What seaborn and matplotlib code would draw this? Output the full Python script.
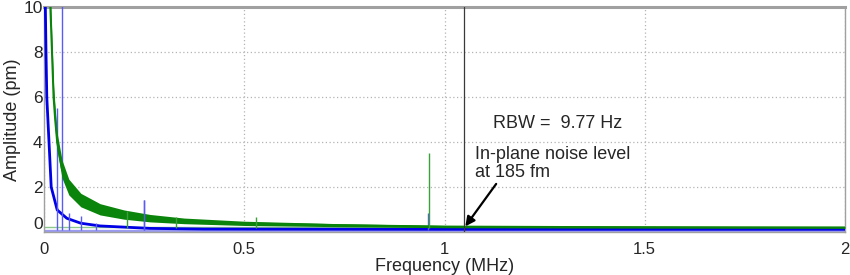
import numpy as np
import pandas as pd
import matplotlib
matplotlib.use("Agg")
import matplotlib.pyplot as plt
import seaborn as sns
from matplotlib.ticker import MultipleLocator

# ---- data (frequency in MHz, amplitude in pm) ----
green_freq = [0.015, 0.020, 0.024, 0.028, 0.033, 0.045, 0.062, 0.092, 0.14,
              0.20, 0.265, 0.35, 0.50, 0.74, 1.00, 1.30, 1.60, 2.00]
green_amp = [10.5, 8.0, 6.0, 5.0, 4.0, 2.8, 2.0, 1.42, 1.0,
             0.76, 0.60, 0.48, 0.38, 0.30, 0.24, 0.22, 0.21, 0.20]
green_lo = [10.0, 7.5, 5.5, 4.5, 3.6, 2.4, 1.65, 1.12, 0.76,
            0.57, 0.45, 0.37, 0.29, 0.235, 0.19, 0.18, 0.175, 0.17]
green_hi = [11.0, 8.5, 6.5, 5.5, 4.4, 3.2, 2.35, 1.72, 1.26,
            0.98, 0.78, 0.62, 0.48, 0.37, 0.29, 0.26, 0.25, 0.235]

blue_freq = [0.003, 0.005, 0.007, 0.0125, 0.018, 0.033, 0.057, 0.092, 0.14,
             0.265, 0.40, 1.00, 2.00]
blue_amp = [10.5, 8.0, 6.0, 4.0, 2.0, 0.98, 0.61, 0.39, 0.27,
            0.16, 0.13, 0.12, 0.12]

blue_spike_freq = [0.033, 0.046, 0.062, 0.093, 0.129, 0.25, 0.96]
blue_spike_amp = [5.5, 10.5, 0.83, 0.71, 0.41, 1.42, 0.85]

green_spike_freq = [0.207, 0.33, 0.53, 0.962]
green_spike_amp = [0.95, 0.68, 0.67, 3.5]

marker_freq = 1.049          # vertical cursor line
baseline_amp = 0.06          # light blue trace along the bottom
green_floor_amp = 0.23       # light green reference trace

x_ticks = [0, 0.5, 1, 1.5, 2]
x_tick_labels = ["0", "0.5", "1", "1.5", "2"]
y_ticks = [0, 2, 4, 6, 8, 10]
y_tick_labels = ["0", "2", "4", "6", "8", "10"]

rbw_text = "RBW =  9.77 Hz"
note_line1 = "In-plane noise level"
note_line2 = "at 185 fm"
arrow_tail = (1.129, 2.14)
arrow_head = (1.052, 0.25)

# ---- styling ----
sns.set_style("white")
plt.rcParams["font.family"] = ["Liberation Sans", "DejaVu Sans"]

GREEN = "#0a840a"
BLUE = "#0000e6"
GRAY = "#a0a0a0"

fig = plt.figure(figsize=(8.5, 2.75), dpi=100)
ax = fig.add_axes([44 / 850, 1 - 232 / 275, (845 - 44) / 850, (232 - 7.3) / 275])

green_df = pd.DataFrame({"freq": green_freq, "amp": green_amp})
blue_df = pd.DataFrame({"freq": blue_freq, "amp": blue_amp})

# reference traces along the bottom
ax.axhline(baseline_amp, color="#9a9af0", lw=2.4, zorder=1)
ax.axhline(green_floor_amp, color="#8cc88c", lw=1.0, zorder=1)

# blue spectrum
sns.lineplot(data=blue_df, x="freq", y="amp", ax=ax, color=BLUE, lw=2.0,
             zorder=3, estimator=None, sort=True)
ax.vlines(blue_spike_freq, 0.1, blue_spike_amp, color="#5a5af5", lw=1.0, zorder=3)

# green spectrum (noisy band)
ax.fill_between(green_freq, green_lo, green_hi, color=GREEN, lw=0, zorder=4)
sns.lineplot(data=green_df, x="freq", y="amp", ax=ax, color=GREEN, lw=1.5,
             zorder=4, estimator=None, sort=True)
ax.vlines(green_spike_freq, 0.18, green_spike_amp, color="#3aa03a", lw=1.0, zorder=4)
ax.vlines([blue_spike_freq[5]], 0.1, blue_spike_amp[5], color="#5a5af5", lw=1.0, zorder=5)

# cursor line
ax.axvline(marker_freq, color="#3a3a3a", lw=0.9, zorder=5)

# annotations
ax.text(1.121, 4.85, rbw_text, fontsize=13, ha="left", va="center", zorder=6)
ax.text(1.076, 3.43, note_line1, fontsize=13, ha="left", va="center", zorder=6)
ax.text(1.076, 2.63, note_line2, fontsize=13, ha="left", va="center", zorder=6)
ax.annotate("", xy=arrow_head, xytext=arrow_tail,
            arrowprops=dict(arrowstyle="-|>", color="black", lw=1.6,
                            mutation_scale=14, shrinkA=0, shrinkB=0), zorder=6)

# axes
ax.set_xlim(0, 2)
ax.set_ylim(0, 10)
ax.set_xticks(x_ticks)
ax.set_xticklabels(x_tick_labels)
ax.set_yticks(y_ticks)
ax.set_yticklabels(y_tick_labels)
ax.xaxis.set_minor_locator(MultipleLocator(0.1))
ax.grid(True, which="major", linestyle=(0, (1, 2)), color="#b4b4b4", lw=0.9)
ax.set_axisbelow(True)

ax.tick_params(axis="x", which="major", direction="out", length=3, width=1,
               color=GRAY, labelsize=12, pad=4)
ax.tick_params(axis="x", which="minor", direction="out", length=2.5, width=1,
               color=GRAY)
ax.tick_params(axis="y", which="major", direction="in", length=2, width=1,
               color=GRAY, labelsize=12.5, pad=1)
ax.get_yticklabels()[0].set_va("bottom")

for side, sp in ax.spines.items():
    sp.set_visible(True)
    sp.set_color(GRAY)
    sp.set_linewidth(1.0)
ax.spines["top"].set_linewidth(2.2)

ax.set_xlabel("Frequency (MHz)", fontsize=13, labelpad=1)
ax.set_ylabel("Amplitude (pm)", fontsize=13, labelpad=1.5)

fig.savefig("out.png", dpi=100, facecolor="white")
